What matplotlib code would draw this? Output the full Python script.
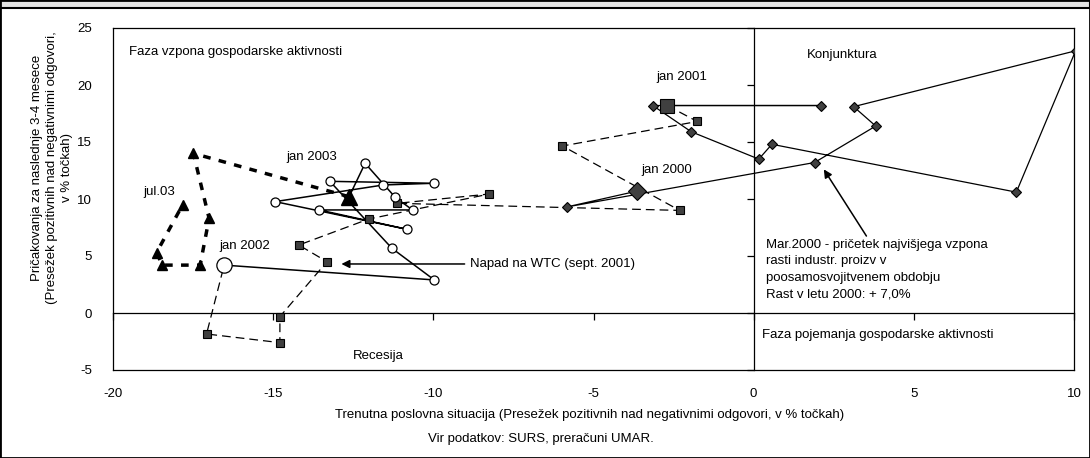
import matplotlib
matplotlib.use('Agg')
import matplotlib.pyplot as plt
from matplotlib.patches import Rectangle

plt.rcParams['font.family'] = ['Liberation Sans', 'DejaVu Sans']
plt.rcParams['font.size'] = 9.5
plt.rcParams['axes.unicode_minus'] = False

# Monthly points per year: current situation (x) vs expectations (y)
# each list ends with January of the following year
x_2000 = [-3.63, -5.84, 1.9, 3.81, 3.12, 10.05, 8.2, 0.57, 0.16, -1.95, -3.15, 2.1, -2.7]
y_2000 = [10.7, 9.3, 13.2, 16.4, 18.1, 23.0, 10.6, 14.8, 13.5, 15.9, 18.2, 18.2, 18.2]

x_2001 = [-2.7, -1.76, -5.97, -2.31, -11.13, -8.25, -12.02, -14.2, -13.32, -14.79, -14.79, -17.08, -16.53]
y_2001 = [18.2, 16.8, 14.65, 9.0, 9.62, 10.44, 8.24, 5.96, 4.5, -0.32, -2.6, -1.84, 4.2]

x_2002 = [-16.53, -9.97, -11.29, -13.23, -9.99, -11.56, -14.94, -10.82, -13.56, -10.65, -11.19, -12.13, -12.63]
y_2002 = [4.2, 2.9, 5.67, 11.55, 11.38, 11.23, 9.77, 7.34, 9.04, 9.04, 10.15, 13.13, 10.2]

x_2003 = [-12.63, -17.49, -17.0, -17.28, -18.46, -18.64, -17.83]
y_2003 = [10.2, 14.0, 8.3, 4.2, 4.2, 5.3, 9.47]

x_ticks = [-20, -15, -10, -5, 0, 5, 10]
y_ticks = [-5, 0, 5, 10, 15, 20, 25]

fig = plt.figure(figsize=(10.9, 4.58), dpi=100)
ax = fig.add_axes([113 / 1090, 1 - 370 / 458, 961 / 1090, 342 / 458])

gray = '#404040'

# 2000 - diamonds, solid line
ax.plot(x_2000, y_2000, color='black', lw=0.9, zorder=2)
ax.plot(x_2000[1:12], y_2000[1:12], 'D', ms=5.5, mfc=gray, mec='black', mew=0.8, zorder=4)
ax.plot(x_2000[0], y_2000[0], 'D', ms=9, mfc=gray, mec='black', mew=0.8, zorder=5)

# 2001 - squares, dashed line
ax.plot(x_2001, y_2001, color='black', lw=0.9, ls=(0, (7, 4)), zorder=2)
ax.plot(x_2001[1:12], y_2001[1:12], 's', ms=5.5, mfc=gray, mec='black', mew=0.8, zorder=4)
ax.plot(x_2001[0], y_2001[0], 's', ms=10, mfc=gray, mec='black', mew=0.8, zorder=5)

# 2002 - open circles, solid line
ax.plot(x_2002, y_2002, color='black', lw=1.1, zorder=2)
ax.plot(x_2002[1:12], y_2002[1:12], 'o', ms=6.5, mfc='white', mec='black', mew=0.9, zorder=4)
ax.plot(x_2002[0], y_2002[0], 'o', ms=11, mfc='white', mec='black', mew=0.9, zorder=5)

# 2003 - triangles, heavy dotted line
ax.plot(x_2003, y_2003, color='black', lw=2.5, ls=(0, (2.2, 2.4)), zorder=2)
ax.plot(x_2003[1:], y_2003[1:], '^', ms=7, color='black', zorder=4)
ax.plot(x_2003[0], y_2003[0], '^', ms=12, color='black', zorder=5)

ax.set_xlim(-20, 10)
ax.set_ylim(-5, 25)

# axes cross at zero, labels stay on the frame
ax.spines['left'].set_position(('data', 0))
ax.spines['bottom'].set_position(('data', 0))
for s in ax.spines.values():
    s.set_linewidth(0.9)
ax.set_xticks(x_ticks)
ax.set_yticks(y_ticks)
ax.tick_params(direction='out', length=5, width=0.9, labelbottom=False, labelleft=False)

sec_x = ax.secondary_xaxis(0.0)
sec_x.set_xticks(x_ticks)
sec_x.tick_params(length=0, pad=13)
sec_x.spines['bottom'].set_linewidth(0.9)
sec_y = ax.secondary_yaxis(0.0)
sec_y.set_yticks(y_ticks)
sec_y.tick_params(length=0, pad=15)
sec_y.spines['left'].set_linewidth(0.9)

# labels inside the plot
ax.text(-19.5, 22.9, 'Faza vzpona gospodarske aktivnosti', va='center')
ax.text(1.66, 22.6, 'Konjunktura', va='center')
ax.text(-3.04, 20.7, 'jan 2001', va='center')
ax.text(-3.5, 12.5, 'jan 2000', va='center')
ax.text(-14.6, 13.7, 'jan 2003', va='center')
ax.text(-19.05, 10.6, 'jul.03', va='center')
ax.text(-16.69, 5.9, 'jan 2002', va='center')
ax.text(0.27, -1.93, 'Faza pojemanja gospodarske aktivnosti', va='center')
ax.text(-12.5, -3.77, 'Recesija', va='center')

ax.annotate('Napad na WTC (sept. 2001)', xy=(-12.87, 4.3), xytext=(-8.85, 4.3),
            va='center', arrowprops=dict(arrowstyle='-|>', color='black', lw=1.1,
                                         mutation_scale=12, shrinkA=2, shrinkB=0))
ax.annotate('', xy=(2.19, 12.6), xytext=(3.52, 6.75),
            arrowprops=dict(arrowstyle='-|>', color='black', lw=1.1,
                            mutation_scale=12, shrinkA=0, shrinkB=0))
ax.text(0.4, 6.5, 'Mar.2000 - pričetek najvišjega vzpona\nrasti industr. proizv v\n'
        'poosamosvojitvenem obdobju\nRast v letu 2000: + 7,0%',
        va='top', linespacing=1.5)

# axis titles and source
fig.text(52 / 1090, 1 - 168 / 458,
         'Pričakovanja za naslednje 3-4 mesece\n(Presežek pozitivnih nad negativnimi odgovori,\nv % točkah)',
         rotation=90, ha='center', va='center', linespacing=1.3)
fig.text(590 / 1090, 1 - 415 / 458,
         'Trenutna poslovna situacija (Presežek pozitivnih nad negativnimi odgovori, v % točkah)',
         ha='center', va='center')
fig.text(541 / 1090, 1 - 439 / 458, 'Vir podatkov: SURS, preračuni UMAR.', ha='center', va='center')

# title band (cut off) and outer border
fig.patches.append(Rectangle((0, 1 - 8 / 458), 1, 8 / 458, transform=fig.transFigure,
                             facecolor='#e3e3e3', edgecolor='black', lw=1.5))
fig.patches.append(Rectangle((0, 0), 1, 1, transform=fig.transFigure,
                             facecolor='none', edgecolor='black', lw=2))

fig.savefig('out.png', dpi=100)
